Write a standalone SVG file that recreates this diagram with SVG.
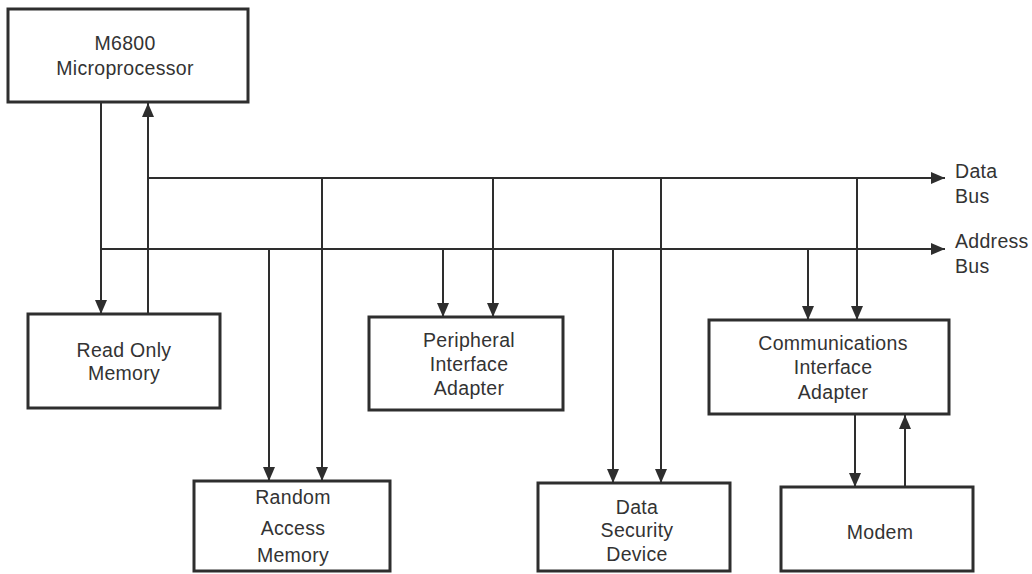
<svg xmlns="http://www.w3.org/2000/svg" width="1032" height="574" viewBox="0 0 1032 574">
<style>
.box{fill:#fff;stroke:#2e2e2e;stroke-width:3}
.ln{fill:none;stroke:#2e2e2e;stroke-width:2}
.t{font-family:"Liberation Sans",Arial,sans-serif;font-size:19.5px;letter-spacing:0.3px;fill:#333;text-anchor:middle}
.tl{font-family:"Liberation Sans",Arial,sans-serif;font-size:19.5px;letter-spacing:0.3px;fill:#333}
</style>
<defs>
<marker id="ah" markerUnits="userSpaceOnUse" markerWidth="15" markerHeight="13" refX="14" refY="6.5" orient="auto">
<path d="M0,0.5 L14,6.5 L0,12.5 z" fill="#2e2e2e"/>
</marker>
</defs>
<rect width="1032" height="574" fill="#fff"/>
<g id="connectors">
<line class="ln" x1="148" y1="178" x2="945" y2="178" marker-end="url(#ah)"/>
<line class="ln" x1="101" y1="249" x2="945" y2="249" marker-end="url(#ah)"/>
<line class="ln" x1="101" y1="103" x2="101" y2="314" marker-end="url(#ah)"/>
<line class="ln" x1="148" y1="314" x2="148" y2="103" marker-end="url(#ah)"/>
<line class="ln" x1="269" y1="249" x2="269" y2="481" marker-end="url(#ah)"/>
<line class="ln" x1="322" y1="178" x2="322" y2="481" marker-end="url(#ah)"/>
<line class="ln" x1="443" y1="249" x2="443" y2="317" marker-end="url(#ah)"/>
<line class="ln" x1="493" y1="178" x2="493" y2="317" marker-end="url(#ah)"/>
<line class="ln" x1="613" y1="249" x2="613" y2="483" marker-end="url(#ah)"/>
<line class="ln" x1="661" y1="178" x2="661" y2="483" marker-end="url(#ah)"/>
<line class="ln" x1="808" y1="249" x2="808" y2="320" marker-end="url(#ah)"/>
<line class="ln" x1="857" y1="178" x2="857" y2="320" marker-end="url(#ah)"/>
<line class="ln" x1="855" y1="415" x2="855" y2="487" marker-end="url(#ah)"/>
<line class="ln" x1="905" y1="487" x2="905" y2="415" marker-end="url(#ah)"/>
</g>
<g id="labels">
<text class="tl" x="955" y="178">Data</text>
<text class="tl" x="955" y="203">Bus</text>
<text class="tl" x="955" y="248">Address</text>
<text class="tl" x="955" y="273">Bus</text>
</g>
<g id="m6800">
<rect class="box" x="8" y="9" width="240" height="93"/>
<text class="t" x="125" y="50">M6800</text>
<text class="t" x="125" y="75">Microprocessor</text>
</g>
<g id="rom">
<rect class="box" x="28" y="314" width="192" height="94"/>
<text class="t" x="124" y="357">Read Only</text>
<text class="t" x="124" y="380">Memory</text>
</g>
<g id="ram">
<rect class="box" x="194" y="481" width="196" height="90"/>
<text class="t" x="293" y="504">Random</text>
<text class="t" x="293" y="535">Access</text>
<text class="t" x="293" y="562">Memory</text>
</g>
<g id="pia">
<rect class="box" x="369" y="317" width="194" height="93"/>
<text class="t" x="469" y="347">Peripheral</text>
<text class="t" x="469" y="371">Interface</text>
<text class="t" x="469" y="395">Adapter</text>
</g>
<g id="dsd">
<rect class="box" x="538" y="483" width="192" height="88"/>
<text class="t" x="637" y="514">Data</text>
<text class="t" x="637" y="537">Security</text>
<text class="t" x="637" y="561">Device</text>
</g>
<g id="cia">
<rect class="box" x="709" y="320" width="240" height="94"/>
<text class="t" x="833" y="350">Communications</text>
<text class="t" x="833" y="374">Interface</text>
<text class="t" x="833" y="399">Adapter</text>
</g>
<g id="modem">
<rect class="box" x="781" y="487" width="192" height="84"/>
<text class="t" x="880" y="539">Modem</text>
</g>
</svg>
